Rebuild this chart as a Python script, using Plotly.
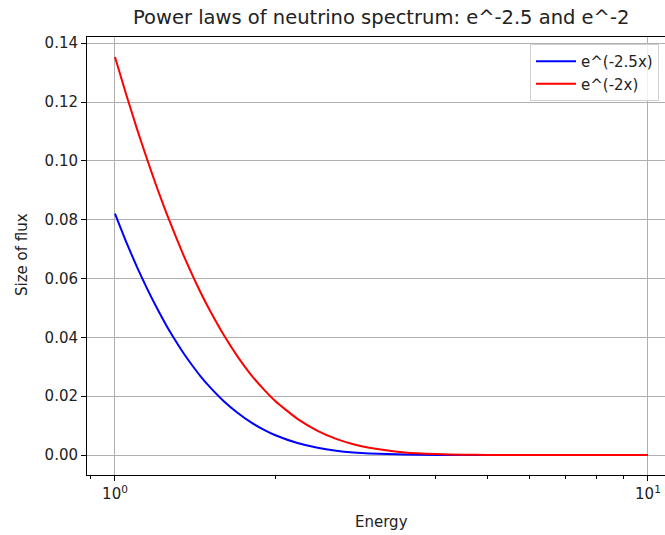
import plotly.graph_objects as go

# Data
energy = [1.0, 1.05, 1.1, 1.15, 1.2, 1.25, 1.3, 1.35, 1.4, 1.45, 1.5, 1.6, 1.7, 1.8, 1.9, 2.0,
          2.2, 2.4, 2.6, 2.8, 3.0, 3.5, 4.0, 4.5, 5.0, 6.0, 7.0, 8.0, 9.0, 10.0]
flux_25 = [0.0821, 0.0724, 0.0639, 0.0564, 0.0498, 0.0439, 0.0388, 0.0342, 0.0302, 0.0266,
           0.0235, 0.0183, 0.0143, 0.0111, 0.00865, 0.00674,
           0.00409, 0.00248, 0.00150, 0.00091, 0.00055, 0.00016, 0.000045, 0.000013, 0.0000037,
           0.0, 0.0, 0.0, 0.0, 0.0]
flux_2 = [0.1353, 0.1225, 0.1108, 0.1003, 0.0907, 0.0821, 0.0743, 0.0672, 0.0608, 0.0550,
          0.0498, 0.0408, 0.0334, 0.0273, 0.0224, 0.0183,
          0.0123, 0.00823, 0.00552, 0.00370, 0.00248, 0.00091, 0.00034, 0.00012, 0.000045,
          0.000006, 0.0, 0.0, 0.0, 0.0]
series_names = ["e^(-2.5x)", "e^(-2x)"]
title_text = "Power laws of neutrino spectrum: e^-2.5 and e^-2"
x_label = "Energy"
y_label = "Size of flux"
y_ticks = [0.00, 0.02, 0.04, 0.06, 0.08, 0.10, 0.12, 0.14]
x_ticks = [1, 10]
x_ticktext = ["10<sup>0</sup>", "10<sup>1</sup>"]
x_minor = [0.9, 2, 3, 4, 5, 6, 7, 8, 9]

FONT = "DejaVu Sans"
TXT = "#222222"

W, H = 665, 535
# plot box in page pixels
PX0, PX1, PY0, PY1 = 87, 665, 37, 475
L = PX0
R = W - PX1
T = PY0
B = H - PY1
pw = PX1 - PX0
ph = PY1 - PY0


def px(xp):
    return (xp - PX0) / pw


def py(yp):
    return (PY1 - yp) / ph


fig = go.Figure()
fig.add_trace(go.Scatter(x=energy, y=flux_25, mode="lines", name=series_names[0],
                         line=dict(color="blue", width=2, shape="spline", smoothing=0.5)))
fig.add_trace(go.Scatter(x=energy, y=flux_2, mode="lines", name=series_names[1],
                         line=dict(color="red", width=2, shape="spline", smoothing=0.5)))

fig.update_layout(
    width=W, height=H,
    margin=dict(l=L, r=R, t=T, b=B, pad=0),
    paper_bgcolor="white", plot_bgcolor="white",
    font=dict(family=FONT, size=15, color=TXT),
    showlegend=True,
    legend=dict(x=px(530), y=py(44), xanchor="left", yanchor="top",
                bordercolor="#d0d0d0", borderwidth=1, bgcolor="rgba(255,255,255,0.8)",
                font=dict(family=FONT, size=15, color=TXT),
                itemwidth=40, tracegroupgap=0),
    xaxis=dict(type="log", range=[-0.0525, 1.032],
               tickmode="array", tickvals=x_ticks, ticktext=x_ticktext,
               ticks="outside", ticklen=5, tickwidth=1, tickcolor="black",
               ticklabeloverflow="allow",
               showline=True, linecolor="black", linewidth=1, mirror=True,
               showgrid=True, gridcolor="#b0b0b0", gridwidth=1,
               zeroline=False,
               minor=dict(tickmode="array", tickvals=x_minor, ticks="outside", ticklen=3,
                          tickwidth=1, tickcolor="black", showgrid=False),
               tickfont=dict(family=FONT, size=15, color=TXT)),
    yaxis=dict(range=[-0.00677, 0.1421],
               tickmode="array", tickvals=y_ticks, tickformat=".2f",
               ticks="outside", ticklen=5, tickwidth=1, tickcolor="black",
               showline=True, linecolor="black", linewidth=1, mirror=False,
               showgrid=True, gridcolor="#b0b0b0", gridwidth=1,
               zeroline=False,
               tickfont=dict(family=FONT, size=15, color=TXT)),
    annotations=[
        dict(text=title_text, xref="paper", yref="paper",
             x=px(381), y=py(18), xanchor="center", yanchor="middle",
             showarrow=False, font=dict(family=FONT, size=19.5, color=TXT)),
        dict(text=x_label, xref="paper", yref="paper",
             x=px(381), y=py(522), xanchor="center", yanchor="middle",
             showarrow=False, font=dict(family=FONT, size=15, color=TXT)),
        dict(text=y_label, xref="paper", yref="paper",
             x=px(22), y=py(255), xanchor="center", yanchor="middle",
             textangle=-90, showarrow=False, font=dict(family=FONT, size=15, color=TXT)),
    ],
)

fig.write_html(
    "out.html",
    config={"displayModeBar": False},
    post_script="document.body.style.margin='0';document.body.style.overflow='hidden';",
)
